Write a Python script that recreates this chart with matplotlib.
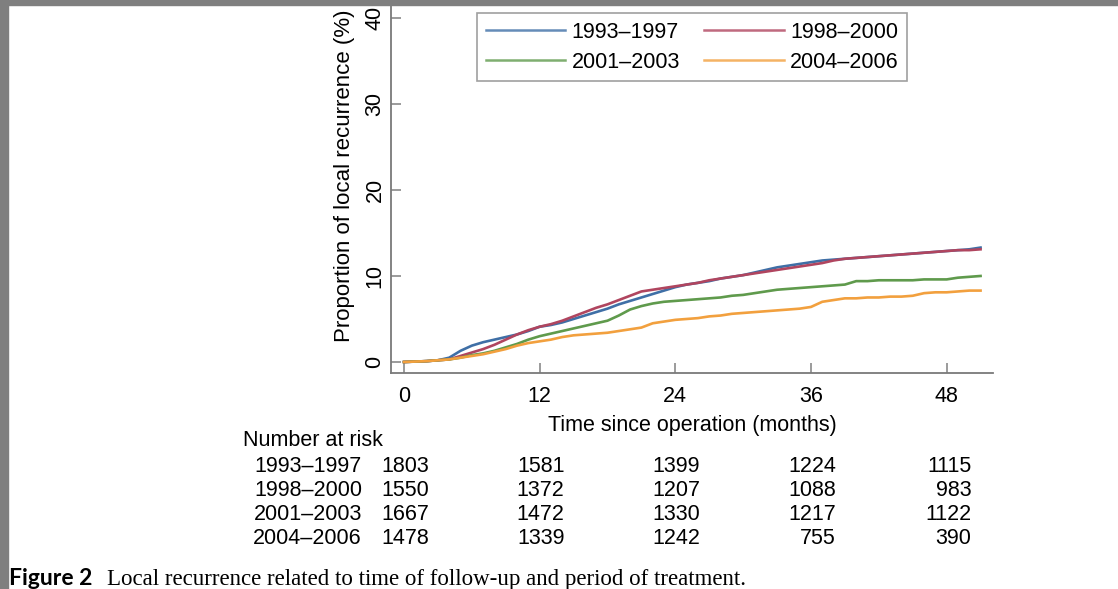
import matplotlib

matplotlib.use("Agg")
import matplotlib.pyplot as plt
from matplotlib.patches import Rectangle
from matplotlib.transforms import blended_transform_factory

# months since operation (curves)
months = list(range(0, 52))

p1993 = [0, 0.05, 0.1, 0.2, 0.5, 1.3, 1.9, 2.3, 2.6, 2.9, 3.2, 3.6, 4.1, 4.3, 4.6, 5.0,
         5.4, 5.8, 6.2, 6.7, 7.1, 7.5, 7.9, 8.3, 8.7, 9.0, 9.2, 9.4, 9.7, 9.9, 10.1, 10.4,
         10.7, 11.0, 11.2, 11.4, 11.6, 11.8, 11.9, 12.0, 12.1, 12.2, 12.3, 12.4, 12.5, 12.6,
         12.7, 12.8, 12.9, 13.0, 13.1, 13.3]
p1998 = [0, 0.05, 0.1, 0.2, 0.3, 0.7, 1.1, 1.5, 2.0, 2.6, 3.2, 3.7, 4.1, 4.4, 4.8, 5.3,
         5.8, 6.3, 6.7, 7.2, 7.7, 8.2, 8.4, 8.6, 8.8, 9.0, 9.2, 9.5, 9.7, 9.9, 10.1, 10.3,
         10.5, 10.7, 10.9, 11.1, 11.3, 11.5, 11.8, 12.0, 12.1, 12.2, 12.3, 12.4, 12.5, 12.6,
         12.7, 12.8, 12.9, 13.0, 13.0, 13.1]
p2001 = [0, 0.05, 0.1, 0.2, 0.3, 0.5, 0.8, 1.0, 1.3, 1.7, 2.1, 2.6, 3.0, 3.3, 3.6, 3.9,
         4.2, 4.5, 4.8, 5.4, 6.1, 6.5, 6.8, 7.0, 7.1, 7.2, 7.3, 7.4, 7.5, 7.7, 7.8, 8.0,
         8.2, 8.4, 8.5, 8.6, 8.7, 8.8, 8.9, 9.0, 9.4, 9.4, 9.5, 9.5, 9.5, 9.5, 9.6, 9.6,
         9.6, 9.8, 9.9, 10.0]
p2004 = [0, 0.05, 0.1, 0.2, 0.3, 0.5, 0.7, 0.9, 1.2, 1.5, 1.9, 2.2, 2.4, 2.6, 2.9, 3.1,
         3.2, 3.3, 3.4, 3.6, 3.8, 4.0, 4.5, 4.7, 4.9, 5.0, 5.1, 5.3, 5.4, 5.6, 5.7, 5.8,
         5.9, 6.0, 6.1, 6.2, 6.4, 7.0, 7.2, 7.4, 7.4, 7.5, 7.5, 7.6, 7.6, 7.7, 8.0, 8.1,
         8.1, 8.2, 8.3, 8.3]

periods = ["1993\u20131997", "1998\u20132000", "2001\u20132003", "2004\u20132006"]
colors = ["#3f6fa6", "#b0455f", "#5f9a4c", "#f2a03e"]

risk_times = [0, 12, 24, 36, 48]
risk_1993 = [1803, 1581, 1399, 1224, 1115]
risk_1998 = [1550, 1372, 1207, 1088, 983]
risk_2001 = [1667, 1472, 1330, 1217, 1122]
risk_2004 = [1478, 1339, 1242, 755, 390]

plt.rcParams["font.family"] = ["Liberation Sans", "DejaVu Sans"]
FS = 15.5

fig = plt.figure(figsize=(11.18, 5.89), dpi=100)
W, H = 1118, 589
ax = fig.add_axes([391 / W, 1 - 373 / H, (993 - 391) / W, (373 - 5) / H])

curves = [p1993, p1998, p2001, p2004]
handles = []
for lab, col, ys in zip(periods, colors, curves):
    (ln,) = ax.plot(months, ys, color=col, lw=1.9, label=lab)
    handles.append(ln)

ax.set_xlim(-1.15, 52.1)
ax.set_ylim(-1.28, 41.5)
ax.set_xticks(risk_times)
ax.set_yticks([0, 10, 20, 30, 40])
for s in ("top", "right"):
    ax.spines[s].set_visible(False)
for s in ("left", "bottom"):
    ax.spines[s].set_color("#7a7a7a")
    ax.spines[s].set_linewidth(1.3)
ax.tick_params(direction="in", length=7, width=1.2, color="#8a8a8a",
               labelsize=FS)
ax.tick_params(axis="x", pad=9)
ax.tick_params(axis="y", pad=4)
for t in ax.get_yticklabels():
    t.set_rotation(90)
    t.set_va("center")

ax.set_xlabel("Time since operation (months)", fontsize=FS, labelpad=6)
ax.set_ylabel("Proportion of local recurrence (%)", fontsize=16)
ax.yaxis.set_label_coords(-0.06, 0.535)

# row-major legend order: 1993, 1998 / 2001, 2004
order = [0, 2, 1, 3]
leg = ax.legend([handles[i] for i in order], [periods[i] for i in order],
                ncol=2, loc="upper left", bbox_to_anchor=(0.143, 0.978),
                fontsize=FS, frameon=True, fancybox=False, handlelength=3.7,
                handletextpad=0.3, columnspacing=1.1, labelspacing=0.42,
                borderpad=0.4, borderaxespad=0)
leg.get_frame().set_edgecolor("#888888")
leg.get_frame().set_linewidth(1.2)
for h in leg.get_lines():
    h.set_linewidth(1.8)
    h.set_alpha(0.8)

# number at risk table
tr = blended_transform_factory(ax.transData, fig.transFigure)
fig.text(243 / W, 1 - 440 / H, "Number at risk", fontsize=FS, va="center", ha="left")
rows = [risk_1993, risk_1998, risk_2001, risk_2004]
row_y = [467, 491, 515, 538]
for lab, vals, yp in zip(periods, rows, row_y):
    fig.text(362 / W, 1 - yp / H, lab, fontsize=FS, va="center", ha="right")
    for t, v in zip(risk_times, vals):
        ax.text(t + 2.2, 1 - yp / H, str(v), transform=tr, fontsize=FS,
                va="center", ha="right", clip_on=False)

# caption at the foot of the page
fig.text(9 / W, 1 - 585 / H, "Figure 2", fontsize=16.5, fontweight="bold",
         family=["Lato", "DejaVu Sans"], va="baseline", ha="left")
fig.text(107 / W, 1 - 585 / H,
         "Local recurrence related to time of follow-up and period of treatment.",
         fontsize=16.5, family=["Liberation Serif", "DejaVu Serif"],
         va="baseline", ha="left")

# grey page border
fig.patches.append(Rectangle((0, 1 - 5 / H), 1, 5 / H, transform=fig.transFigure,
                             color="#7f7f7f", zorder=10))
fig.patches.append(Rectangle((0, 0), 8 / W, 1, transform=fig.transFigure,
                             color="#7f7f7f", zorder=10))

fig.savefig("out.png", dpi=100)
